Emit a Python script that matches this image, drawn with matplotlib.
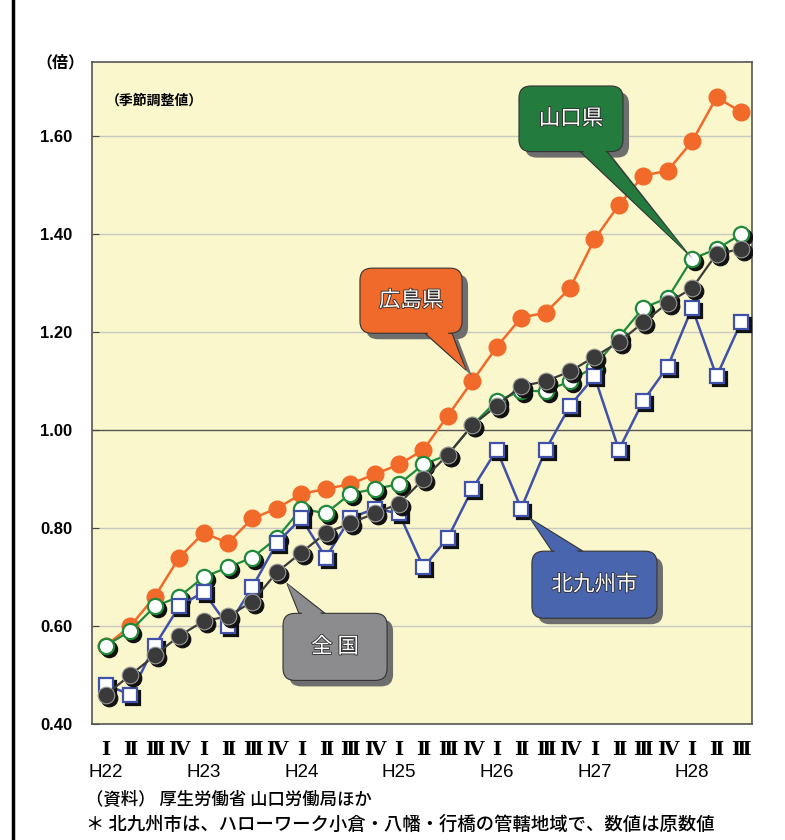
import matplotlib
matplotlib.use('Agg')
import matplotlib.pyplot as plt
import matplotlib.patheffects as pe
from matplotlib.patches import FancyBboxPatch, Polygon
from matplotlib.transforms import offset_copy, IdentityTransform
from matplotlib.lines import Line2D

plt.rcParams['font.family'] = ['Noto Sans CJK JP', 'DejaVu Sans']

# quarterly data, H22 I .. H28 III
quarters = ['Ⅰ', 'Ⅱ', 'Ⅲ', 'Ⅳ'] * 6 + ['Ⅰ', 'Ⅱ', 'Ⅲ']
years = ['H22', 'H23', 'H24', 'H25', 'H26', 'H27', 'H28']
hiroshima = [0.56, 0.60, 0.66, 0.74, 0.79, 0.77, 0.82, 0.84, 0.87, 0.88, 0.89, 0.91, 0.93, 0.96,
             1.03, 1.10, 1.17, 1.23, 1.24, 1.29, 1.39, 1.46, 1.52, 1.53, 1.59, 1.68, 1.65]
yamaguchi = [0.56, 0.59, 0.64, 0.66, 0.70, 0.72, 0.74, 0.78, 0.84, 0.83, 0.87, 0.88, 0.89, 0.93,
             0.95, 1.01, 1.06, 1.08, 1.08, 1.10, 1.13, 1.19, 1.25, 1.27, 1.35, 1.37, 1.40]
kitakyushu = [0.48, 0.46, 0.56, 0.64, 0.67, 0.60, 0.68, 0.77, 0.82, 0.74, 0.82, 0.84, 0.83, 0.72,
              0.78, 0.88, 0.96, 0.84, 0.96, 1.05, 1.11, 0.96, 1.06, 1.13, 1.25, 1.11, 1.22]
zenkoku = [0.46, 0.50, 0.54, 0.58, 0.61, 0.62, 0.65, 0.71, 0.75, 0.79, 0.81, 0.83, 0.85, 0.90,
           0.95, 1.01, 1.05, 1.09, 1.10, 1.12, 1.15, 1.18, 1.22, 1.26, 1.29, 1.36, 1.37]
yticks = [0.40, 0.60, 0.80, 1.00, 1.20, 1.40, 1.60]

x = list(range(len(quarters)))

W, H = 785, 840
fig = plt.figure(figsize=(W / 100, H / 100), dpi=100)
ax = fig.add_axes([92 / W, 1 - 724 / H, (752 - 92) / W, (724 - 62) / H])
ax.set_facecolor('#FAF7CC')
ax.set_xlim(-0.57, 26.45)
ax.set_ylim(0.40, 1.752)

for sp in ax.spines.values():
    sp.set_color('#555555')
    sp.set_linewidth(1.2)

for v in yticks[1:]:
    if abs(v - 1.0) < 1e-6:
        ax.axhline(v, color='#555555', lw=1.0, zorder=1)
    else:
        ax.axhline(v, color='#C9C9C2', lw=1.0, zorder=1)

ax.set_yticks(yticks)
ax.set_yticklabels(['%.2f' % v for v in yticks],
                   fontfamily=['Liberation Sans Narrow', 'Liberation Sans'],
                   fontweight='bold', fontsize=12)
ax.tick_params(axis='y', direction='in', length=5, color='#444444', pad=14)
ax.set_xticks(x)
ax.set_xticklabels(quarters, fontfamily=['DejaVu Serif', 'Noto Sans CJK JP'],
                   fontweight='bold', fontsize=14)
ax.tick_params(axis='x', length=0, pad=12)

for i, yr in enumerate(years):
    ax.text(i * 4, -0.073, yr, transform=ax.get_xaxis_transform(), ha='center', va='center',
            fontfamily=['Liberation Sans Narrow', 'Liberation Sans'], fontsize=13.5)


def series(vals, lc, lw, marker, mfc, mec, ms, mew, z, shadow):
    ax.plot(x, vals, color=lc, lw=lw, zorder=z, solid_joinstyle='round')
    if shadow:
        tr = offset_copy(ax.transData, fig=fig, x=3, y=-3, units='dots')
        ax.plot(x, vals, ls='none', marker=marker, ms=ms, mfc='#111111', mec='#111111',
                mew=mew, transform=tr, zorder=z + 0.1)
    ax.plot(x, vals, ls='none', marker=marker, ms=ms, mfc=mfc, mec=mec, mew=mew, zorder=z + 0.2)


series(hiroshima, '#F26A2A', 1.8, 'o', '#F26A2A', '#F26A2A', 12, 1, 3, False)
series(yamaguchi, '#1F8A3B', 1.6, 'o', 'white', '#1F8A3B', 11, 1.6, 4, True)
series(kitakyushu, '#3F51A8', 1.8, 's', 'white', '#3F51A8', 10.5, 1.6, 5, True)
series(zenkoku, '#3A3A3A', 1.6, 'o', '#3A3A3A', '#9A9A9A', 12, 0.8, 6, True)


def callout(label, color, box, base, tip, fs=15.5):
    to_px = ax.transData.transform
    px0, py0 = to_px((box[0], box[1]))
    px1, py1 = to_px((box[2], box[3]))
    w, h = px1 - px0, py1 - py0
    b1 = to_px(base[0])
    b2 = to_px(base[1])
    tp = to_px(tip)
    cx, cy = (px0 + px1) / 2, (py0 + py1) / 2
    # base points pulled towards box centre so the tail joins smoothly
    inner1 = (b1[0] + (cx - b1[0]) * 0.15, b1[1] + (cy - b1[1]) * 0.15)
    inner2 = (b2[0] + (cx - b2[0]) * 0.15, b2[1] + (cy - b2[1]) * 0.15)
    idt = IdentityTransform()
    dx, dy = 6, -6
    fig.add_artist(FancyBboxPatch((px0 + dx, py0 + dy), w, h,
                                  boxstyle='round,pad=0,rounding_size=12',
                                  fc='#6E6E6E', ec='none', transform=idt, zorder=20))
    fig.add_artist(Polygon([(b1[0] + dx, b1[1] + dy), (tp[0] + dx, tp[1] + dy),
                            (b2[0] + dx, b2[1] + dy)],
                           closed=True, fc='#6E6E6E', ec='none', transform=idt, zorder=20))
    fig.add_artist(Polygon([b1, tp, b2], closed=True, fc=color, ec='#333333', lw=0.8,
                           transform=idt, zorder=21))
    fig.add_artist(FancyBboxPatch((px0, py0), w, h, boxstyle='round,pad=0,rounding_size=12',
                                  fc=color, ec='#333333', lw=0.8, transform=idt, zorder=22))
    fig.add_artist(Polygon([inner1, tp, inner2], closed=True, fc=color, ec='none',
                           transform=idt, zorder=23))
    fig.text(cx / W, cy / H, label, ha='center', va='center', color='white', fontsize=fs,
             zorder=24, path_effects=[pe.withStroke(linewidth=1.2, foreground='#2A2A2A')])


callout('山口県', '#237B3D', (16.91, 1.569, 21.17, 1.703),
        [(19.41, 1.569), (20.52, 1.569)], (23.79, 1.362))
callout('広島県', '#F06A2B', (10.40, 1.198, 14.58, 1.331),
        [(13.06, 1.198), (14.17, 1.198)], (14.74, 1.123))
callout('北九州市', '#4865AE', (17.44, 0.616, 22.56, 0.753),
        [(18.26, 0.753), (19.53, 0.753)], (17.36, 0.820))
callout('全 国', '#8C8C8F', (7.25, 0.489, 11.51, 0.626),
        [(7.90, 0.626), (8.97, 0.626)], (7.41, 0.687))

fig.text(60 / W, 1 - 62 / H, '（倍）', ha='center', va='center', fontsize=11.5, fontweight='bold')
fig.text(106 / W, 1 - 101 / H, '（季節調整値）', ha='left', va='center', fontsize=10,
         fontweight='bold')
fig.text(86 / W, 1 - 800 / H, '（資料） 厚生労働省 山口労働局ほか', ha='left', va='center',
         fontsize=12.5, fontweight='medium')
fig.text(86 / W, 1 - 825 / H, '＊ 北九州市は、ハローワーク小倉・八幡・行橋の管轄地域で、数値は原数値',
         ha='left', va='center', fontsize=13.2, fontweight='medium')

# frame line on the left edge of the page
fig.add_artist(Line2D([13 / W, 13 / W], [0, 1], color='black', lw=2.5, transform=fig.transFigure))

fig.savefig('out.png', dpi=100)
